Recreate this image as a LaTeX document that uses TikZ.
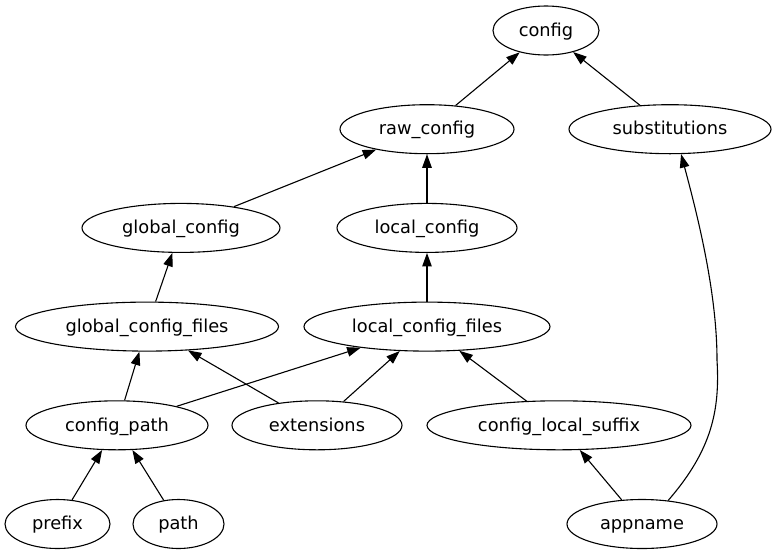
\documentclass[tikz,border=0pt]{standalone}
\usepackage{fontspec}
\setmainfont{DejaVu Sans}
\usetikzlibrary{arrows.meta,shapes.geometric}
\begin{document}
\begin{tikzpicture}[x=1pt,y=-1pt,
  nd/.style={draw=black,ellipse,line width=1.1pt,inner sep=0pt,minimum height=49pt,
    text height=15.5pt,text depth=4pt,
    font=\fontsize{17.8}{20}\selectfont},
  dep/.style={draw=black,line width=1.1pt,-{Triangle[length=13.5pt,width=9.5pt]}}]
\useasboundingbox[fill=white] (0,0) rectangle (773,555);
\node[nd,minimum width=106pt] (config) at (546,30.5) {config};
\node[nd,minimum width=174pt] (raw) at (427,129.2) {raw\_config};
\node[nd,minimum width=202pt] (subst) at (670,129.2) {substitutions};
\node[nd,minimum width=198pt] (gconf) at (181,227.9) {global\_config};
\node[nd,minimum width=180pt] (lconf) at (427,227.9) {local\_config};
\node[nd,minimum width=263pt] (gfiles) at (147,326.6) {global\_config\_files};
\node[nd,minimum width=246pt] (lfiles) at (427,326.6) {local\_config\_files};
\node[nd,minimum width=182pt] (cpath) at (117,425.3) {config\_path};
\node[nd,minimum width=170pt] (ext) at (317,425.3) {extensions};
\node[nd,minimum width=264pt] (suffix) at (559,425.3) {config\_local\_suffix};
\node[nd,minimum width=105pt] (prefix) at (57.5,524) {prefix};
\node[nd,minimum width=91pt] (path) at (178.5,524) {path};
\node[nd,minimum width=150pt] (appname) at (642,524) {appname};
\draw[dep] (raw) -- (config);
\draw[dep] (subst) -- (config);
\draw[dep] (gconf) -- (raw);
\draw[dep] (lconf) -- (raw);
\draw[dep] (gfiles) -- (gconf);
\draw[dep] (lfiles) -- (lconf);
\draw[dep] (cpath) -- (gfiles);
\draw[dep] (cpath) -- (lfiles);
\draw[dep] (ext) -- (gfiles);
\draw[dep] (ext) -- (lfiles);
\draw[dep] (suffix) -- (lfiles);
\draw[dep] (prefix) -- (cpath);
\draw[dep] (path) -- (cpath);
\draw[dep] (appname) -- (suffix);
\coordinate (mid) at (717,360);
\draw[dep] (appname.42) .. controls (712,450) and (720,410) .. (mid)
  .. controls (717,290) and (696,210) .. (subst.-66);
\end{tikzpicture}
\end{document}
